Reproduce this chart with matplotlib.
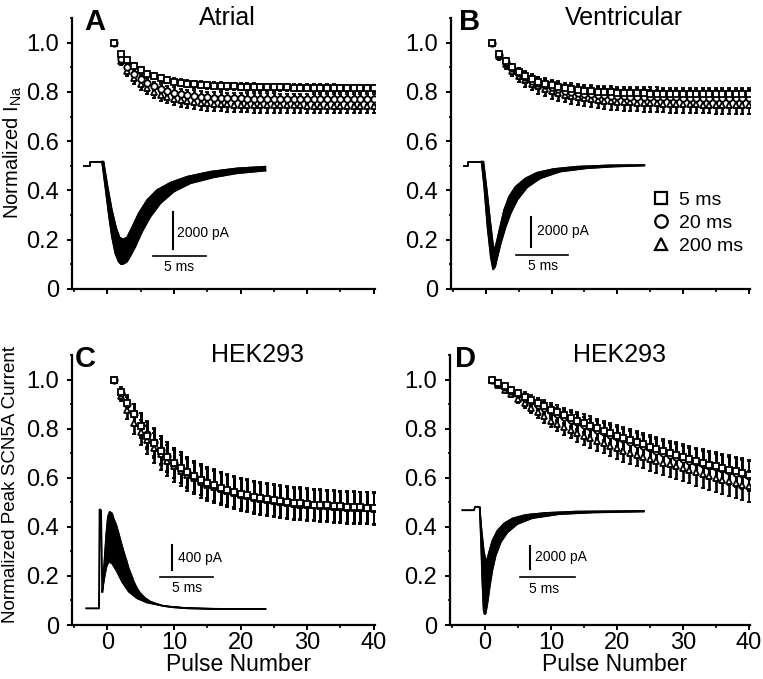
"""Use-dependent decline of peak Na current: atrial, ventricular and HEK293 cells.

Four panels (A-D) with normalized peak current versus pulse number for three
inter-pulse intervals, each with a representative family of current traces
drawn as an inset with its own ms / pA scale bars.
"""

from __future__ import annotations

import matplotlib

matplotlib.use("Agg")
import matplotlib.pyplot as plt
from matplotlib.lines import Line2D
from matplotlib.ticker import FuncFormatter, MultipleLocator
from matplotlib.transforms import Affine2D

plt.rcParams["font.family"] = ["Liberation Sans", "DejaVu Sans"]
plt.rcParams["mathtext.fontset"] = "custom"
plt.rcParams["mathtext.rm"] = "Liberation Sans"
plt.rcParams["mathtext.it"] = "Liberation Sans:italic"

PULSES = list(range(1, 41))
INTERVAL_LABELS = ["5 ms", "20 ms", "200 ms"]

# --- panel A: atrial -------------------------------------------------------
ATRIAL_5MS = [
    1.000, 0.955, 0.928, 0.905, 0.888, 0.874, 0.864, 0.855, 0.848, 0.842,
    0.838, 0.834, 0.831, 0.829, 0.827, 0.825, 0.824, 0.823, 0.822, 0.821,
    0.820, 0.820, 0.819, 0.819, 0.818, 0.818, 0.818, 0.817, 0.817, 0.817,
    0.816, 0.816, 0.816, 0.816, 0.815, 0.815, 0.815, 0.815, 0.815, 0.814,
]
ATRIAL_20MS = [
    1.000, 0.935, 0.900, 0.872, 0.852, 0.836, 0.822, 0.811, 0.803, 0.797,
    0.791, 0.787, 0.784, 0.781, 0.779, 0.777, 0.776, 0.775, 0.774, 0.774,
    0.773, 0.773, 0.772, 0.772, 0.772, 0.771, 0.771, 0.771, 0.771, 0.771,
    0.770, 0.770, 0.770, 0.770, 0.770, 0.770, 0.770, 0.770, 0.770, 0.770,
]
ATRIAL_200MS = [
    1.000, 0.925, 0.885, 0.855, 0.833, 0.815, 0.800, 0.789, 0.780, 0.773,
    0.767, 0.762, 0.758, 0.755, 0.753, 0.751, 0.750, 0.749, 0.748, 0.747,
    0.747, 0.746, 0.746, 0.746, 0.745, 0.745, 0.745, 0.745, 0.745, 0.744,
    0.744, 0.744, 0.744, 0.744, 0.744, 0.744, 0.744, 0.744, 0.744, 0.744,
]
ATRIAL_5MS_SEM = [
    0.000, 0.008, 0.010, 0.011, 0.012, 0.012, 0.013, 0.013, 0.013, 0.014,
    0.014, 0.014, 0.014, 0.014, 0.015, 0.015, 0.015, 0.015, 0.015, 0.015,
    0.015, 0.015, 0.015, 0.015, 0.015, 0.015, 0.015, 0.015, 0.015, 0.015,
    0.015, 0.015, 0.015, 0.015, 0.015, 0.015, 0.015, 0.015, 0.015, 0.015,
]
ATRIAL_20MS_SEM = [
    0.000, 0.012, 0.015, 0.017, 0.018, 0.019, 0.020, 0.020, 0.021, 0.021,
    0.021, 0.022, 0.022, 0.022, 0.022, 0.022, 0.022, 0.022, 0.022, 0.022,
    0.022, 0.022, 0.022, 0.022, 0.022, 0.022, 0.022, 0.022, 0.022, 0.022,
    0.022, 0.022, 0.022, 0.022, 0.022, 0.022, 0.022, 0.022, 0.022, 0.022,
]
ATRIAL_200MS_SEM = [
    0.000, 0.015, 0.020, 0.022, 0.024, 0.025, 0.026, 0.027, 0.027, 0.028,
    0.028, 0.028, 0.029, 0.029, 0.029, 0.029, 0.029, 0.029, 0.030, 0.030,
    0.030, 0.030, 0.030, 0.030, 0.030, 0.030, 0.030, 0.030, 0.030, 0.030,
    0.030, 0.030, 0.030, 0.030, 0.030, 0.030, 0.030, 0.030, 0.030, 0.030,
]

# --- panel B: ventricular --------------------------------------------------
VENTRICULAR_5MS = [
    1.000, 0.955, 0.925, 0.900, 0.880, 0.865, 0.852, 0.842, 0.834, 0.827,
    0.821, 0.816, 0.812, 0.808, 0.805, 0.803, 0.801, 0.799, 0.798, 0.797,
    0.796, 0.795, 0.794, 0.794, 0.793, 0.793, 0.792, 0.792, 0.792, 0.791,
    0.791, 0.791, 0.791, 0.790, 0.790, 0.790, 0.790, 0.790, 0.790, 0.790,
]
VENTRICULAR_20MS = [
    1.000, 0.950, 0.920, 0.895, 0.875, 0.859, 0.846, 0.835, 0.826, 0.818,
    0.811, 0.805, 0.800, 0.796, 0.793, 0.790, 0.788, 0.786, 0.784, 0.783,
    0.782, 0.781, 0.780, 0.780, 0.779, 0.779, 0.778, 0.778, 0.778, 0.777,
    0.777, 0.777, 0.777, 0.776, 0.776, 0.776, 0.776, 0.776, 0.776, 0.776,
]
VENTRICULAR_200MS = [
    1.000, 0.945, 0.912, 0.886, 0.865, 0.848, 0.834, 0.822, 0.812, 0.803,
    0.796, 0.789, 0.784, 0.779, 0.775, 0.771, 0.768, 0.765, 0.763, 0.761,
    0.759, 0.757, 0.756, 0.755, 0.754, 0.753, 0.752, 0.751, 0.750, 0.750,
    0.749, 0.749, 0.748, 0.748, 0.747, 0.747, 0.747, 0.746, 0.746, 0.746,
]
VENTRICULAR_5MS_SEM = [
    0.000, 0.010, 0.013, 0.015, 0.017, 0.018, 0.019, 0.020, 0.021, 0.021,
    0.022, 0.022, 0.023, 0.023, 0.023, 0.024, 0.024, 0.024, 0.024, 0.024,
    0.025, 0.025, 0.025, 0.025, 0.025, 0.025, 0.025, 0.025, 0.025, 0.025,
    0.025, 0.025, 0.025, 0.025, 0.025, 0.025, 0.025, 0.025, 0.025, 0.025,
]
VENTRICULAR_20MS_SEM = [
    0.000, 0.012, 0.016, 0.019, 0.021, 0.023, 0.024, 0.025, 0.026, 0.027,
    0.027, 0.028, 0.028, 0.029, 0.029, 0.029, 0.030, 0.030, 0.030, 0.030,
    0.030, 0.030, 0.030, 0.030, 0.030, 0.030, 0.030, 0.030, 0.030, 0.030,
    0.030, 0.030, 0.030, 0.030, 0.030, 0.030, 0.030, 0.030, 0.030, 0.030,
]
VENTRICULAR_200MS_SEM = [
    0.000, 0.014, 0.019, 0.022, 0.025, 0.027, 0.028, 0.029, 0.030, 0.031,
    0.032, 0.032, 0.033, 0.033, 0.034, 0.034, 0.034, 0.035, 0.035, 0.035,
    0.035, 0.035, 0.035, 0.035, 0.035, 0.035, 0.035, 0.035, 0.035, 0.035,
    0.035, 0.035, 0.035, 0.035, 0.035, 0.035, 0.035, 0.035, 0.035, 0.035,
]

# --- panel C: HEK293, fast decline -----------------------------------------
HEK_C_5MS = [
    1.000, 0.950, 0.905, 0.858, 0.812, 0.772, 0.740, 0.710, 0.684, 0.660,
    0.640, 0.622, 0.606, 0.592, 0.580, 0.569, 0.559, 0.550, 0.542, 0.535,
    0.529, 0.523, 0.518, 0.513, 0.509, 0.505, 0.502, 0.499, 0.496, 0.493,
    0.491, 0.489, 0.487, 0.485, 0.483, 0.481, 0.480, 0.479, 0.478, 0.477,
]
HEK_C_20MS = [
    1.000, 0.945, 0.900, 0.860, 0.815, 0.778, 0.745, 0.714, 0.687, 0.662,
    0.641, 0.623, 0.607, 0.593, 0.580, 0.569, 0.559, 0.550, 0.542, 0.535,
    0.528, 0.522, 0.517, 0.512, 0.508, 0.504, 0.500, 0.497, 0.494, 0.492,
    0.490, 0.488, 0.486, 0.484, 0.482, 0.480, 0.479, 0.478, 0.477, 0.476,
]
HEK_C_200MS = [
    1.000, 0.935, 0.875, 0.822, 0.785, 0.752, 0.722, 0.695, 0.670, 0.648,
    0.629, 0.612, 0.597, 0.584, 0.572, 0.562, 0.553, 0.545, 0.537, 0.530,
    0.524, 0.518, 0.513, 0.508, 0.504, 0.500, 0.497, 0.494, 0.491, 0.489,
    0.487, 0.485, 0.483, 0.481, 0.479, 0.478, 0.477, 0.476, 0.475, 0.474,
]
HEK_C_5MS_SEM = [
    0.000, 0.020, 0.032, 0.042, 0.050, 0.055, 0.058, 0.060, 0.062, 0.063,
    0.063, 0.064, 0.064, 0.064, 0.065, 0.065, 0.065, 0.065, 0.065, 0.065,
    0.065, 0.065, 0.065, 0.065, 0.065, 0.065, 0.065, 0.065, 0.065, 0.065,
    0.065, 0.065, 0.065, 0.065, 0.065, 0.065, 0.065, 0.065, 0.065, 0.065,
]
HEK_C_20MS_SEM = [
    0.000, 0.018, 0.030, 0.040, 0.048, 0.053, 0.056, 0.058, 0.060, 0.061,
    0.062, 0.062, 0.063, 0.063, 0.063, 0.063, 0.063, 0.063, 0.063, 0.063,
    0.063, 0.063, 0.063, 0.063, 0.063, 0.063, 0.063, 0.063, 0.063, 0.063,
    0.063, 0.063, 0.063, 0.063, 0.063, 0.063, 0.063, 0.063, 0.063, 0.063,
]
HEK_C_200MS_SEM = [
    0.000, 0.022, 0.035, 0.045, 0.052, 0.057, 0.060, 0.062, 0.063, 0.064,
    0.064, 0.065, 0.065, 0.065, 0.065, 0.065, 0.065, 0.065, 0.065, 0.065,
    0.065, 0.065, 0.065, 0.065, 0.065, 0.065, 0.065, 0.065, 0.065, 0.065,
    0.065, 0.065, 0.065, 0.065, 0.065, 0.065, 0.065, 0.065, 0.065, 0.065,
]

# --- panel D: HEK293, slow decline -----------------------------------------
HEK_D_5MS = [
    1.000, 0.987, 0.973, 0.959, 0.945, 0.931, 0.917, 0.904, 0.891, 0.878,
    0.866, 0.855, 0.844, 0.833, 0.822, 0.812, 0.802, 0.792, 0.782, 0.772,
    0.763, 0.754, 0.745, 0.736, 0.727, 0.718, 0.709, 0.700, 0.692, 0.684,
    0.676, 0.668, 0.661, 0.654, 0.647, 0.640, 0.633, 0.626, 0.619, 0.612,
]
HEK_D_20MS = [
    1.000, 0.985, 0.970, 0.955, 0.940, 0.926, 0.911, 0.897, 0.884, 0.870,
    0.859, 0.848, 0.837, 0.826, 0.815, 0.805, 0.795, 0.785, 0.775, 0.765,
    0.756, 0.747, 0.738, 0.729, 0.720, 0.711, 0.702, 0.694, 0.686, 0.677,
    0.670, 0.663, 0.656, 0.649, 0.642, 0.635, 0.628, 0.621, 0.614, 0.607,
]
HEK_D_200MS = [
    1.000, 0.978, 0.959, 0.940, 0.921, 0.903, 0.885, 0.867, 0.850, 0.833,
    0.820, 0.807, 0.795, 0.783, 0.771, 0.760, 0.750, 0.740, 0.730, 0.720,
    0.711, 0.702, 0.694, 0.686, 0.678, 0.670, 0.662, 0.655, 0.648, 0.640,
    0.632, 0.624, 0.616, 0.608, 0.600, 0.592, 0.585, 0.578, 0.571, 0.565,
]
HEK_D_5MS_SEM = [
    0.000, 0.005, 0.008, 0.011, 0.014, 0.017, 0.020, 0.022, 0.025, 0.027,
    0.029, 0.031, 0.033, 0.035, 0.036, 0.038, 0.039, 0.040, 0.042, 0.043,
    0.044, 0.045, 0.046, 0.047, 0.048, 0.049, 0.050, 0.051, 0.052, 0.053,
    0.054, 0.055, 0.056, 0.057, 0.058, 0.058, 0.059, 0.060, 0.061, 0.062,
]
HEK_D_20MS_SEM = [
    0.000, 0.005, 0.008, 0.010, 0.013, 0.016, 0.018, 0.021, 0.023, 0.025,
    0.027, 0.029, 0.031, 0.033, 0.034, 0.036, 0.037, 0.038, 0.040, 0.041,
    0.042, 0.043, 0.044, 0.045, 0.046, 0.047, 0.048, 0.049, 0.050, 0.051,
    0.052, 0.053, 0.054, 0.055, 0.056, 0.056, 0.057, 0.058, 0.059, 0.060,
]
HEK_D_200MS_SEM = [
    0.000, 0.006, 0.009, 0.012, 0.015, 0.018, 0.021, 0.023, 0.026, 0.028,
    0.030, 0.032, 0.034, 0.036, 0.037, 0.039, 0.040, 0.041, 0.043, 0.044,
    0.045, 0.046, 0.047, 0.048, 0.049, 0.050, 0.051, 0.052, 0.053, 0.054,
    0.055, 0.056, 0.057, 0.058, 0.059, 0.059, 0.060, 0.061, 0.062, 0.063,
]

# --- inset current traces (time in ms, current in pA) ----------------------
# Each family is drawn as the envelope between the largest ("outer") and the
# smallest ("inner") trace; the step lists hold the holding/test-step artefact.
ATRIAL_STEP_T = [0.0, 0.5, 0.5, 1.66]
ATRIAL_STEP_I = [0, 0, 212, 212]
ATRIAL_OUTER_T = [1.66, 1.97, 2.28, 2.59, 2.91, 3.22, 3.44, 3.63, 4.00, 4.31,
                  4.78, 5.41, 6.19, 7.13, 8.38, 9.94, 12.13, 14.31, 16.97]
ATRIAL_OUTER_I = [212, -1115, -2531, -3770, -4655, -5098, -5222, -5222, -5098,
                  -4797, -4301, -3505, -2708, -2000, -1381, -938, -620, -407, -266]
ATRIAL_INNER_T = [1.81, 2.19, 2.59, 3.00, 3.31, 3.63, 4.00, 4.47, 5.09, 5.88,
                  6.81, 8.06, 9.63, 11.81, 14.31, 16.97]
ATRIAL_INNER_I = [212, -1115, -2354, -3328, -3806, -3912, -3806, -3275, -2531,
                  -1823, -1292, -903, -584, -319, -142, -53]

VENTRICULAR_STEP_T = [0.0, 0.375, 0.375, 1.63]
VENTRICULAR_STEP_I = [0, 0, 266, 266]
VENTRICULAR_OUTER_T = [1.63, 1.88, 2.19, 2.50, 2.72, 2.91, 3.13, 3.44, 3.91,
                       4.38, 5.00, 5.94, 7.19, 9.06, 11.56, 14.06, 17.03]
VENTRICULAR_OUTER_I = [266, -1399, -4063, -6061, -6904, -6727, -6061, -5173,
                       -4063, -3175, -2287, -1443, -844, -400, -178, -67, 0]
VENTRICULAR_INNER_T = [1.81, 2.13, 2.44, 2.72, 2.84, 3.06, 3.38, 3.75, 4.22,
                       4.84, 5.78, 6.88, 8.44, 10.63, 13.75, 17.03]
VENTRICULAR_INNER_I = [266, -1621, -3619, -5284, -5617, -5062, -4063, -2953,
                       -2065, -1399, -844, -466, -222, -67, 22, 44]

HEK_C_STEP_T = [0.0, 1.19, 1.25, 1.375, 1.5]
HEK_C_STEP_I = [0, 0, 1584, 1573, 267]
HEK_C_OUTER_T = [1.50, 1.69, 1.88, 2.03, 2.19, 2.41, 2.56, 2.81, 3.03, 3.28,
                 3.50, 3.75, 3.97, 4.22, 4.44, 4.75, 5.06, 5.53, 6.00, 6.63,
                 7.25, 8.19, 9.44, 11.94, 16.78]
HEK_C_OUTER_I = [267, 720, 1200, 1467, 1547, 1520, 1440, 1333, 1200, 1040,
                 907, 773, 640, 533, 427, 320, 240, 160, 107, 69,
                 37, 16, 0, -11, -11]
HEK_C_INNER_T = [1.50, 1.69, 1.88, 2.09, 2.41, 2.88, 3.34, 3.97, 4.75, 5.69,
                 7.25, 9.44, 11.94, 16.78]
HEK_C_INNER_I = [267, 480, 656, 747, 720, 587, 427, 267, 160, 91,
                 37, 5, -5, -11]

HEK_D_STEP_T = [0.0, 1.07, 1.16, 1.46, 1.59]
HEK_D_STEP_I = [0, 0, 286, 286, 229]
HEK_D_OUTER_T = [1.59, 1.71, 1.83, 1.95, 2.04, 2.13, 2.29, 2.50, 2.74, 3.05,
                 3.51, 4.12, 5.03, 6.40, 8.84, 11.89, 16.62]
HEK_D_OUTER_I = [229, -2629, -6057, -8628, -8971, -8914, -8057, -6628, -5200,
                 -3914, -2771, -1914, -1200, -686, -343, -200, -114]
HEK_D_INNER_T = [1.59, 1.77, 1.98, 2.20, 2.44, 2.74, 3.20, 3.81, 4.57, 5.79,
                 7.62, 10.37, 16.62]
HEK_D_INNER_I = [229, -1771, -3628, -4486, -3628, -2628, -1771, -1143, -714,
                 -400, -229, -114, -57]

MARKERS = ["^", "o", "s"]  # drawn 200 ms first so 5 ms ends on top


def _style_axes(ax: plt.Axes, *, show_xlabels: bool) -> None:
    """Left/bottom spines only, outward ticks, the journal tick layout."""

    for side in ("top", "right"):
        ax.spines[side].set_visible(False)
    for side in ("left", "bottom"):
        ax.spines[side].set_linewidth(1.6)
    ax.set_xlim(-5.3, 40.2)
    ax.set_ylim(0, 1.1)
    ax.xaxis.set_major_locator(MultipleLocator(10))
    ax.xaxis.set_minor_locator(MultipleLocator(5))
    ax.yaxis.set_major_locator(MultipleLocator(0.2))
    ax.yaxis.set_minor_locator(MultipleLocator(0.1))
    ax.yaxis.set_major_formatter(
        FuncFormatter(lambda v, _: "0" if abs(v) < 1e-9 else f"{v:.1f}")
    )
    ax.tick_params(which="major", direction="out", length=3.5, width=1.4,
                   labelsize=17)
    ax.tick_params(which="minor", direction="out", length=1.8, width=1.2)
    ax.tick_params(axis="y", which="major", pad=6)
    ax.tick_params(axis="x", which="major", pad=1.5)
    if not show_xlabels:
        ax.tick_params(axis="x", labelbottom=False)


def _plot_series(ax: plt.Axes, series: list[list[float]], sems: list[list[float]]) -> None:
    """Open symbols with vertical SEM bars, one per pulse interval."""

    for marker, values, sem in zip(MARKERS, series, sems):
        ax.errorbar(PULSES, values, yerr=sem, fmt=marker, color="black",
                    ms=4.6, mew=1.3, mfc="white", mec="black",
                    elinewidth=1.9, capsize=1.4, capthick=1.2)


def _draw_traces(ax: plt.Axes, *, origin: tuple[float, float], scale: tuple[float, float],
                 step: tuple[list[float], list[float]],
                 outer: tuple[list[float], list[float]],
                 inner: tuple[list[float], list[float]],
                 vbar: tuple[float, float, float], hbar: tuple[float, float, float],
                 vlabel: str, vlabel_at: tuple[float, float],
                 hlabel_at: tuple[float, float]) -> None:
    """Draw a current-trace family in ms/pA, mapped onto the parent axes."""

    tr = Affine2D().scale(*scale).translate(*origin) + ax.transData
    ax.plot(step[0], step[1], color="black", lw=1.4, transform=tr)
    poly_t = outer[0] + inner[0][::-1]
    poly_i = outer[1] + inner[1][::-1]
    ax.fill(poly_t, poly_i, color="black", lw=1.0, transform=tr)
    ax.plot(outer[0], outer[1], color="black", lw=1.3, transform=tr)
    ax.plot(inner[0], inner[1], color="black", lw=1.0, transform=tr)

    t_bar, i_lo, i_hi = vbar
    ax.plot([t_bar, t_bar], [i_lo, i_hi], color="black", lw=1.5, transform=tr)
    t0, t1, i_bar = hbar
    ax.plot([t0, t1], [i_bar, i_bar], color="black", lw=1.2, transform=tr)
    ax.text(*vlabel_at, vlabel, fontsize=10, va="center", ha="left", transform=tr)
    ax.text(*hlabel_at, "5 ms", fontsize=10, va="center", ha="center", transform=tr)


fig = plt.figure(figsize=(7.63, 6.79), dpi=100)
ax_a = fig.add_axes([0.0944, 0.5744, 0.3971, 0.3991])
ax_b = fig.add_axes([0.5911, 0.5744, 0.3919, 0.3991])
ax_c = fig.add_axes([0.0944, 0.0795, 0.3971, 0.3976])
ax_d = fig.add_axes([0.5898, 0.0795, 0.3932, 0.3976])

_style_axes(ax_a, show_xlabels=False)
_style_axes(ax_b, show_xlabels=False)
_style_axes(ax_c, show_xlabels=True)
_style_axes(ax_d, show_xlabels=True)

_plot_series(ax_a, [ATRIAL_200MS, ATRIAL_20MS, ATRIAL_5MS],
             [ATRIAL_200MS_SEM, ATRIAL_20MS_SEM, ATRIAL_5MS_SEM])
_plot_series(ax_b, [VENTRICULAR_200MS, VENTRICULAR_20MS, VENTRICULAR_5MS],
             [VENTRICULAR_200MS_SEM, VENTRICULAR_20MS_SEM, VENTRICULAR_5MS_SEM])
_plot_series(ax_c, [HEK_C_200MS, HEK_C_20MS, HEK_C_5MS],
             [HEK_C_200MS_SEM, HEK_C_20MS_SEM, HEK_C_5MS_SEM])
_plot_series(ax_d, [HEK_D_200MS, HEK_D_20MS, HEK_D_5MS],
             [HEK_D_200MS_SEM, HEK_D_20MS_SEM, HEK_D_5MS_SEM])

_draw_traces(ax_a, origin=(-3.46, 0.501), scale=(1.604, 7.655e-5),
             step=(ATRIAL_STEP_T, ATRIAL_STEP_I),
             outer=(ATRIAL_OUTER_T, ATRIAL_OUTER_I),
             inner=(ATRIAL_INNER_T, ATRIAL_INNER_I),
             vbar=(8.31, -2443, -4443), hbar=(6.44, 11.44, -4797),
             vlabel="2000 pA", vlabel_at=(8.7, -3558), hlabel_at=(8.9, -5400))
_draw_traces(ax_b, origin=(-3.27, 0.501), scale=(1.609, 6.106e-5),
             step=(VENTRICULAR_STEP_T, VENTRICULAR_STEP_I),
             outer=(VENTRICULAR_OUTER_T, VENTRICULAR_OUTER_I),
             inner=(VENTRICULAR_INNER_T, VENTRICULAR_INNER_I),
             vbar=(6.34, -3397, -5395), hbar=(4.84, 9.84, -5950),
             vlabel="2000 pA", vlabel_at=(6.85, -4329), hlabel_at=(7.4, -6700))
_draw_traces(ax_c, origin=(-3.16, 0.068), scale=(1.604, 2.541e-4),
             step=(HEK_C_STEP_T, HEK_C_STEP_I),
             outer=(HEK_C_OUTER_T, HEK_C_OUTER_I),
             inner=(HEK_C_INNER_T, HEK_C_INNER_I),
             vbar=(8.03, 1013, 613), hbar=(6.88, 11.88, 507),
             vlabel="400 pA", vlabel_at=(8.55, 800), hlabel_at=(9.4, 330))
_draw_traces(ax_d, origin=(-3.43, 0.468), scale=(1.657, 4.723e-5),
             step=(HEK_D_STEP_T, HEK_D_STEP_I),
             outer=(HEK_D_OUTER_T, HEK_D_OUTER_I),
             inner=(HEK_D_INNER_T, HEK_D_INNER_I),
             vbar=(6.19, -3057, -5057), hbar=(5.27, 10.27, -5771),
             vlabel="2000 pA", vlabel_at=(6.65, -4057), hlabel_at=(7.5, -6800))

# Panel letters and titles
for ax, letter, x in ((ax_a, "A", 0.040), (ax_b, "B", 0.028),
                      (ax_c, "C", 0.010), (ax_d, "D", 0.018)):
    ax.text(x, 0.955, letter, transform=ax.transAxes, fontsize=21,
            fontweight="bold", va="baseline", ha="left")
for ax, title, x in ((ax_a, "Atrial", 0.42), (ax_b, "Ventricular", 0.38),
                     (ax_c, "HEK293", 0.46), (ax_d, "HEK293", 0.41)):
    ax.text(x, 0.975, title, transform=ax.transAxes, fontsize=18,
            va="baseline", ha="left")

ax_a.set_ylabel(r"Normalized I$_\mathregular{Na}$", fontsize=14.5)
ax_a.yaxis.set_label_coords(-0.16, 0.505)
ax_c.set_ylabel("Normalized Peak SCN5A Current", fontsize=13.5)
ax_c.yaxis.set_label_coords(-0.175, 0.52)
for ax in (ax_c, ax_d):
    ax.set_xlabel("Pulse Number", fontsize=16.5)
    ax.xaxis.set_label_coords(0.55, -0.103)

handles = [Line2D([], [], ls="none", marker=m, ms=9, mew=1.6, mfc="white",
                  mec="black") for m in ("s", "o", "^")]
ax_b.legend(handles, INTERVAL_LABELS, loc="upper left",
            bbox_to_anchor=(0.67, 0.36), frameon=False, fontsize=14,
            handlelength=1.0, handletextpad=0.4, labelspacing=0.28,
            borderpad=0.0, borderaxespad=0.0)

fig.savefig("out.png", dpi=100)
